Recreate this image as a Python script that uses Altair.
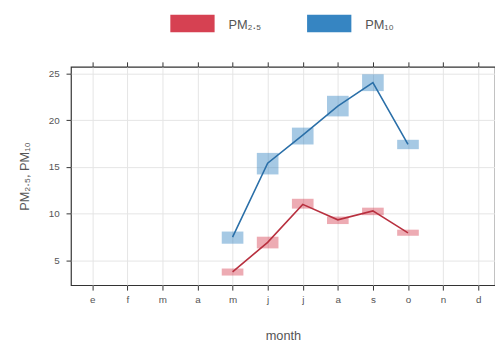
import altair as alt
import pandas as pd

month_letters = ["e", "f", "m", "a", "m", "j", "j", "a", "s", "o", "n", "d"]
months = [5, 6, 7, 8, 9, 10]

pm25_mean = [3.8, 6.95, 11.0, 9.35, 10.3, 7.95]
pm25_lo = [3.4, 6.3, 10.55, 8.9, 9.85, 7.65]
pm25_hi = [4.15, 7.55, 11.6, 9.7, 10.65, 8.3]

pm10_mean = [7.5, 15.4, 18.4, 21.5, 24.0, 17.4]
pm10_lo = [6.8, 14.2, 17.4, 20.4, 23.1, 16.9]
pm10_hi = [8.1, 16.5, 19.2, 22.6, 24.9, 17.9]

series_names = ["PM\u2082.\u2085", "PM\u2081\u2080"]
series_colors = ["#D43749", "#2B7EBF"]
line_colors = ["#B8303F", "#2A6FA8"]

rows = []
for name, mean, lo, hi in [
    (series_names[0], pm25_mean, pm25_lo, pm25_hi),
    (series_names[1], pm10_mean, pm10_lo, pm10_hi),
]:
    for m, v, l, h in zip(months, mean, lo, hi):
        rows.append({"series": name, "month": m, "mean": v, "lo": l, "hi": h})
df = pd.DataFrame(rows)

FONT = "Liberation Sans"
TXT = "#555555"
FRAME = "#333333"

xscale = alt.Scale(domain=[0.534, 12.34], nice=False, zero=False)
yscale = alt.Scale(domain=[2.37, 25.7], nice=False, zero=False)
color = alt.Color("series:N", scale=alt.Scale(domain=series_names, range=series_colors), legend=None)
line_color = alt.Color("series:N", scale=alt.Scale(domain=series_names, range=line_colors), legend=None)

label_expr = "[" + ",".join("'%s'" % s for s in month_letters) + "][datum.value - 1]"

x_bottom = alt.X(
    "month:Q", scale=xscale,
    axis=alt.Axis(values=list(range(1, 13)), labelExpr=label_expr, title="month",
                  orient="bottom", grid=True, gridColor="#e4e4e4", domain=False,
                  tickColor=FRAME, tickSize=5, labelPadding=5, labelFontSize=10,
                  labelColor=TXT, titleFontSize=13, titleColor=TXT, titleFontWeight="normal",
                  titlePadding=25, labelFont=FONT, titleFont=FONT),
)
y_axis_def = alt.Axis(values=[5, 10, 15, 20, 25], title="PM\u2082.\u2085, PM\u2081\u2080",
                      grid=True, gridColor="#e4e4e4", domain=False, tickColor=FRAME, tickSize=5,
                      labelPadding=7, labelFontSize=10, labelColor=TXT, titleFontSize=13,
                      titleColor=TXT, titleFontWeight="normal", titlePadding=17,
                      labelFont=FONT, titleFont=FONT)

bars = alt.Chart(df).mark_bar(size=22, opacity=0.42).encode(
    x=x_bottom,
    y=alt.Y("lo:Q", scale=yscale, axis=y_axis_def),
    y2="hi:Q",
    color=color,
)

lines = alt.Chart(df).mark_line(strokeWidth=1.6).encode(
    x=alt.X("month:Q", scale=xscale,
            axis=alt.Axis(values=list(range(1, 13)), orient="top", labels=False, title=None,
                          grid=False, domain=False, tickColor=FRAME, tickSize=5)),
    y=alt.Y("mean:Q", scale=yscale, axis=y_axis_def),
    color=line_color,
    detail="series:N",
)

legend_layers = []
rect_x = [101, 240]
for name, col, rx in zip(series_names, series_colors, rect_x):
    d = alt.Data(values=[{"label": name}])
    legend_layers.append(
        alt.Chart(d).mark_rect(color=col, opacity=0.95).encode(
            x=alt.value(rx), x2=alt.value(rx + 45), y=alt.value(-53), y2=alt.value(-35)
        )
    )
    legend_layers.append(
        alt.Chart(d).mark_text(align="left", baseline="middle", fontSize=13, font=FONT,
                               color=TXT).encode(
            x=alt.value(rx + 59), y=alt.value(-42), text="label:N"
        )
    )

chart = alt.layer(bars, lines, *legend_layers).resolve_axis(x="independent").resolve_scale(
    color="independent"
).properties(
    width=431, height=222,
    autosize=alt.AutoSizeParams(type="none"),
    padding={"left": 64, "top": 57, "right": 0, "bottom": 55},
    background="white",
).configure_view(stroke=FRAME, strokeWidth=1.2)

chart.save("out.html", embed_options={"renderer": "svg", "actions": False})
